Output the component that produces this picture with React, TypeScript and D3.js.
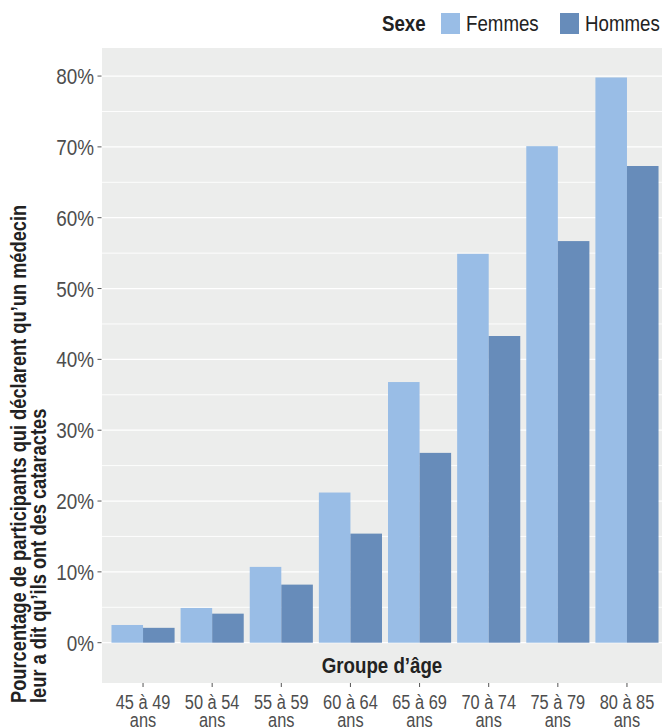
import React from "react";
import * as d3 from "d3";

const ageGroups = ["45 à 49 ans", "50 à 54 ans", "55 à 59 ans", "60 à 64 ans", "65 à 69 ans", "70 à 74 ans", "75 à 79 ans", "80 à 85 ans"];
const sexes = ["Femmes", "Hommes"];
const femmes = [2.5, 4.9, 10.7, 21.2, 36.8, 54.9, 70.1, 79.8];
const hommes = [2.1, 4.1, 8.2, 15.4, 26.8, 43.3, 56.7, 67.3];
const majorTicks = [0, 10, 20, 30, 40, 50, 60, 70, 80];
const minorTicks = [5, 15, 25, 35, 45, 55, 65, 75];
const colors = ["#99BDE6", "#678CBA"];

const W = 662, H = 727;
const FONT = "'Liberation Sans', Arial, sans-serif";

type TProps = { x: number; y: number; size: number; anchor?: string; bold?: boolean; fill?: string; sx?: number; dy?: string; children: React.ReactNode };
function T({ x, y, size, anchor = "start", bold = false, fill = "#222", sx = 0.84, dy, children }: TProps) {
  return (
    <text transform={`translate(${x},${y}) scale(${sx},1)`} textAnchor={anchor} dy={dy}
      fontFamily={FONT} fontWeight={bold ? "bold" : "normal"} fontSize={size} fill={fill}>{children}</text>
  );
}

export default function App() {
  const panel = { x0: 102, x1: 662, y0: 48, y1: 683 };
  const y = d3.scaleLinear().domain([-5.69, 83.96]).range([panel.y1, panel.y0]);
  const x = d3.scaleBand<string>().domain(ageGroups).range([108.5, 661.5]).paddingInner(0.087).paddingOuter(0.043);
  const xs = d3.scaleBand<string>().domain(sexes).range([0, x.bandwidth()]);
  const series = [femmes, hommes];
  return (
    <svg width={W} height={H} style={{ position: "absolute", left: 0, top: 0, display: "block" }}>
      <rect x={0} y={0} width={W} height={H} fill="#fff" />
      <rect x={panel.x0} y={panel.y0} width={panel.x1 - panel.x0} height={panel.y1 - panel.y0} fill="#ECEDEC" />
      {minorTicks.map(t => (
        <line key={"m" + t} x1={panel.x0} x2={panel.x1} y1={y(t)} y2={y(t)} stroke="#fff" strokeWidth={0.9} />
      ))}
      {majorTicks.map(t => (
        <line key={"M" + t} x1={panel.x0} x2={panel.x1} y1={y(t)} y2={y(t)} stroke="#fff" strokeWidth={1.2} />
      ))}
      {ageGroups.map((g, i) => (
        <g key={g}>
          {sexes.map((s, j) => (
            <rect key={s} x={(x(g) as number) + (xs(s) as number)} width={xs.bandwidth()}
              y={y(series[j][i])} height={y(0) - y(series[j][i])} fill={colors[j]} />
          ))}
        </g>
      ))}
      {majorTicks.map(t => (
        <g key={"t" + t}>
          <line x1={97.5} x2={101.5} y1={y(t)} y2={y(t)} stroke="#555" strokeWidth={1} />
          <T x={94} y={y(t)} dy="0.36em" anchor="end" size={22.5} fill="#4D4D4D">{t + "%"}</T>
        </g>
      ))}
      {ageGroups.map(g => {
        const cx = (x(g) as number) + x.bandwidth() / 2;
        const parts = g.split(" ans");
        return (
          <g key={"x" + g}>
            <line x1={cx} x2={cx} y1={panel.y1} y2={panel.y1 + 4} stroke="#555" strokeWidth={1} />
            <T x={cx} y={709} anchor="middle" size={19.5} fill="#4D4D4D">{parts[0]}</T>
            <T x={cx} y={727} anchor="middle" size={19.5} fill="#4D4D4D">ans</T>
          </g>
        );
      })}
      <T x={(panel.x0 + panel.x1) / 2} y={673} anchor="middle" bold size={21.5} sx={0.87}>Groupe d’âge</T>
      <g transform="translate(26,703) rotate(-90)">
        <T x={0} y={0} bold size={21.5} sx={0.85}>Pourcentage de participants qui déclarent qu’un médecin</T>
        <T x={0} y={19.5} bold size={21.5} sx={0.85}>leur a dit qu’ils ont des cataractes</T>
      </g>
      <T x={382} y={31} bold size={22} sx={0.85}>Sexe</T>
      {sexes.map((s, j) => (
        <g key={"l" + s}>
          <rect x={441 + j * 119} y={13} width={19} height={21} fill={colors[j]} />
          <T x={466 + j * 119} y={31} size={22} sx={0.85}>{s}</T>
        </g>
      ))}
    </svg>
  );
}
